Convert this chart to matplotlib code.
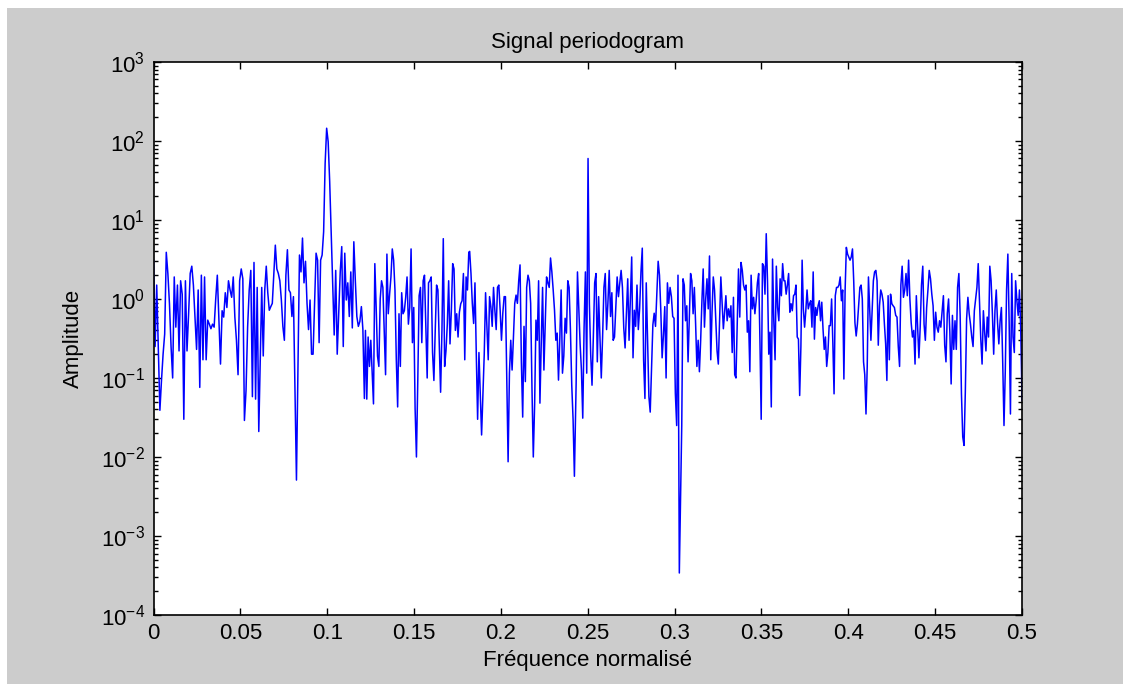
import numpy as np
import matplotlib
matplotlib.use("Agg")
import matplotlib.pyplot as plt
from matplotlib.patches import Rectangle
from matplotlib.ticker import LogLocator, NullFormatter

plt.rcParams["font.family"] = ["Liberation Sans", "DejaVu Sans"]
plt.rcParams["mathtext.default"] = "regular"

# %% Periodogram values, segment by segment

seg1 = [3.1, 0.25, 1.5, 0.25, 0.039, 0.093, 0.2, 0.36, 3.9, 2.1,
        0.87, 0.25, 0.1, 1.9, 0.44, 1.5, 0.22, 1.7, 1.15, 0.03,
        1.7, 0.22, 0.65, 2.1, 2.6, 1.5, 0.59, 0.23, 1.3, 0.076,
        2.0, 0.17, 1.9, 0.17, 0.54, 0.48, 0.42, 0.48, 0.44, 1.0,
        2.0, 0.54, 0.15, 0.71, 0.59, 1.2, 0.78, 1.7, 1.3, 1.05,
        1.9, 0.59, 0.3, 0.11, 1.7, 2.4, 1.8, 0.029, 0.069, 0.44,
        1.3, 2.3, 0.058, 2.9, 0.054, 1.4, 0.021]

seg2 = [1.4, 0.19, 1.3, 2.6, 1.2, 0.72, 0.8, 0.88, 2.1, 4.8,
        2.4, 2.1, 1.7, 0.97, 0.45, 0.3, 2.0, 4.2, 1.3, 1.2,
        0.6, 1.07, 0.078, 0.0051, 0.14, 3.6, 2.2, 5.9, 1.6, 3.0,
        0.88, 0.41, 0.97, 0.2, 0.2, 0.88, 3.8, 3.1, 0.28, 3.1,
        3.6, 7.1, 52, 145, 98, 31, 6.8, 1.5, 0.35, 2.3,
        0.2, 0.66, 2.2, 4.6, 0.25, 3.8, 0.97, 1.6, 0.6, 2.2,
        0.43, 5.3, 1.7, 0.6, 0.45, 0.52, 0.8, 0.41, 0.055]

seg3 = [0.4, 0.054, 0.33, 0.14, 0.3, 0.12, 0.047, 2.8, 0.78, 0.19,
        0.14, 1.0, 1.7, 1.4, 0.4, 0.11, 3.7, 0.65, 1.15, 1.9,
        4.3, 3.1, 1.3, 0.17, 0.043, 0.65, 0.14, 1.2, 0.65, 0.71,
        1.05, 1.9, 0.48, 0.78, 4.3, 0.28, 0.78, 0.041, 0.01, 0.093,
        1.1, 1.4, 0.28, 1.7, 2.0, 0.44, 0.1, 1.6, 1.7, 1.9,
        0.21, 0.093, 0.4, 1.5, 1.3, 0.27, 0.066, 0.4, 5.8, 0.14,
        0.22, 0.48, 1.7, 0.27, 0.71, 2.8, 2.4, 0.4, 0.65, 0.33,
        0.68, 0.87, 0.95, 2.1, 0.17, 1.9, 1.3, 3.9]

seg4 = [4.0, 2.1, 0.88, 0.49, 1.6, 0.2, 0.03, 0.21, 0.064, 0.019,
        0.064, 0.2, 1.2, 0.45, 0.17, 1.07, 0.8, 0.45, 1.4, 0.72,
        0.41, 1.4, 1.5, 0.72, 0.3, 0.66, 1.07, 1.07, 0.1, 0.0087,
        0.115, 0.3, 0.126, 0.32, 0.88, 1.12, 0.88, 1.7, 2.7, 0.16,
        0.032, 0.45, 0.09, 1.4, 2.0, 1.7, 0.88, 0.074, 0.01, 0.046,
        0.54, 0.3, 1.7, 0.048, 0.28, 1.4, 0.126, 0.49, 1.9, 1.6,
        1.4, 3.3, 2.2, 1.3, 0.72, 0.3, 0.37, 0.094, 0.32, 1.3,
        0.115, 0.19, 0.57, 0.37, 1.7, 1.4, 0.41, 0.081, 0.03, 0.0057]

seg5 = [0.086, 2.2, 0.76, 0.27, 0.126, 0.031, 0.43, 2.2,
        0.115, 60, 0.88, 0.2, 0.081, 0.33, 1.6, 2.1, 0.16, 1.07,
        0.33, 0.1, 0.33, 1.4, 2.1, 0.41, 0.88, 2.3, 0.6, 1.2,
        0.3, 0.33, 0.8, 1.9, 1.07, 1.6, 2.3, 1.4, 0.43, 0.24,
        0.66, 1.8, 0.3, 0.97, 3.4, 0.18, 0.72, 0.45, 1.5, 0.41,
        0.76, 2.2, 4.4, 0.17, 0.055, 1.6, 0.3, 0.058, 0.037, 0.126,
        0.47, 0.66, 0.45, 1.12, 3.0, 2.0, 0.72, 0.18, 0.35, 0.8,
        0.1, 1.6, 0.88, 1.4, 1.07, 0.6, 0.57, 0.064, 0.025, 2.0, 0.00034]

seg6 = [0.025, 1.8, 1.5, 0.53, 0.82, 0.16, 0.59, 2.1, 1.7, 0.65,
        1.4, 0.48, 0.14, 0.3, 0.12, 0.3, 0.95, 2.4, 0.44, 1.0,
        1.8, 0.75, 3.5, 0.17, 0.68, 1.9, 1.3, 0.53, 0.22, 0.15,
        0.53, 1.9, 0.87, 0.42, 0.68, 1.1, 0.53, 0.75, 0.59, 0.82,
        0.21, 1.05, 0.11, 0.1, 0.48, 2.4, 0.59, 2.9, 2.3, 1.5,
        1.3, 1.5, 0.38, 0.53, 0.12, 2.0, 0.75, 1.05, 0.65, 0.95,
        1.6, 2.1, 0.3, 0.03, 2.8, 2.6, 1.15, 6.7, 1.7, 0.2,
        0.38, 0.043, 3.2, 0.53, 0.17, 2.6, 0.78, 0.53, 1.8, 1.1, 2.8, 1.7]

seg7 = [1.7, 1.15, 1.5, 2.1, 0.68, 0.87, 0.71, 1.1, 1.15, 1.5,
        0.33, 0.31, 0.06, 0.25, 3.1, 0.75, 0.44, 0.71, 1.3, 0.75,
        0.87, 0.95, 0.44, 2.2, 0.31, 0.78, 0.62, 0.82, 0.95, 0.53,
        0.91, 0.42, 0.23, 0.33, 0.14, 0.21, 0.46, 0.46, 1.0, 0.28,
        0.063, 1.1, 1.4, 1.4, 1.5, 1.9, 0.95, 1.3, 0.097, 1.3,
        4.5, 3.7, 3.4, 3.1, 3.4, 4.3, 1.7, 0.5, 0.34, 0.48,
        0.82, 1.4, 1.5, 1.0, 0.16, 0.11, 0.035, 0.14, 1.9, 0.75,
        0.3, 0.71, 1.7, 2.2, 2.3, 1.7, 0.26, 0.82, 1.3, 1.15,
        0.91, 0.48, 0.27, 0.093, 1.1, 0.17]

seg8 = [1.15, 0.87, 0.82, 0.78, 0.62, 0.59, 0.25, 0.14, 1.5, 2.6,
        1.05, 1.3, 2.1, 1.1, 3.1, 1.0, 0.5, 0.33, 0.4, 0.15,
        1.1, 0.44, 0.18, 0.44, 1.5, 2.6, 0.48, 0.3, 0.78, 1.3,
        2.3, 1.8, 1.15, 0.82, 0.3, 0.68, 0.44, 0.38, 0.53, 0.44,
        0.71, 1.1, 0.26, 0.16, 0.65, 1.0, 0.38, 0.084, 0.62, 0.23,
        0.53, 0.23, 1.4, 2.1, 0.62, 0.063, 0.018, 0.014, 0.066, 0.56,
        1.05, 0.65, 0.48, 0.33, 0.25, 0.71, 1.0, 1.4, 2.8, 0.91,
        0.31, 0.15, 0.71, 0.38, 0.22, 0.59, 0.33, 2.6, 1.7, 0.65,
        0.2, 0.71, 1.3, 0.5, 0.27, 0.53, 0.78, 0.16, 0.025, 0.123,
        1.3, 3.7, 0.5, 0.035, 2.1, 0.33, 0.21, 1.7, 0.95, 0.62,
        1.3, 0.4, 0.052]

# normalised frequency range covered by each segment
seg_bounds = [(0.0, 0.0606), (0.0623, 0.1214), (0.1220, 0.1815), (0.1820, 0.2423),
              (0.2433, 0.3027), (0.3041, 0.3629), (0.3635, 0.4236), (0.4243, 0.5)]

xtick_vals = [0, 0.05, 0.1, 0.15, 0.2, 0.25, 0.3, 0.35, 0.4, 0.45, 0.5]
xtick_labels = ["0", "0.05", "0.1", "0.15", "0.2", "0.25", "0.3",
                "0.35", "0.4", "0.45", "0.5"]

segments = [seg1, seg2, seg3, seg4, seg5, seg6, seg7, seg8]
freq = np.concatenate([np.linspace(a, b, len(s)) for (a, b), s in zip(seg_bounds, segments)])
amp = np.concatenate([np.array(s, dtype=float) for s in segments])

# %% Plot

fig = plt.figure(figsize=(11.23, 6.84), dpi=100, facecolor="white")
fig.patches.append(Rectangle((7 / 1123, 0), 1, 1 - 8 / 684, transform=fig.transFigure,
                             facecolor="#cccccc", edgecolor="none", zorder=-10))

ax = fig.add_axes([0.1367, 0.1009, 0.7734, 0.8085])
ax.semilogy(freq, amp, color="blue", linewidth=1.1)

ax.set_xlim(0, 0.5)
ax.set_ylim(1e-4, 1e3)
ax.set_xticks(xtick_vals)
ax.set_xticklabels(xtick_labels)
ax.yaxis.set_major_locator(LogLocator(base=10, numticks=20))
ax.yaxis.set_minor_locator(LogLocator(base=10, subs=np.arange(2, 10), numticks=20))
ax.yaxis.set_minor_formatter(NullFormatter())

ax.tick_params(which="both", direction="in", top=True, right=True, labelsize=16,
               colors="black", width=1)
ax.tick_params(which="major", length=5, pad=6)
ax.tick_params(which="minor", length=3)
for sp in ax.spines.values():
    sp.set_linewidth(1.2)

ax.set_title("Signal periodogram", fontsize=16, pad=10)
ax.set_xlabel("Fréquence normalisé", fontsize=16, labelpad=4)
ax.set_ylabel("Amplitude", fontsize=16, labelpad=12)

fig.savefig("out.png", dpi=100, facecolor=fig.get_facecolor())
